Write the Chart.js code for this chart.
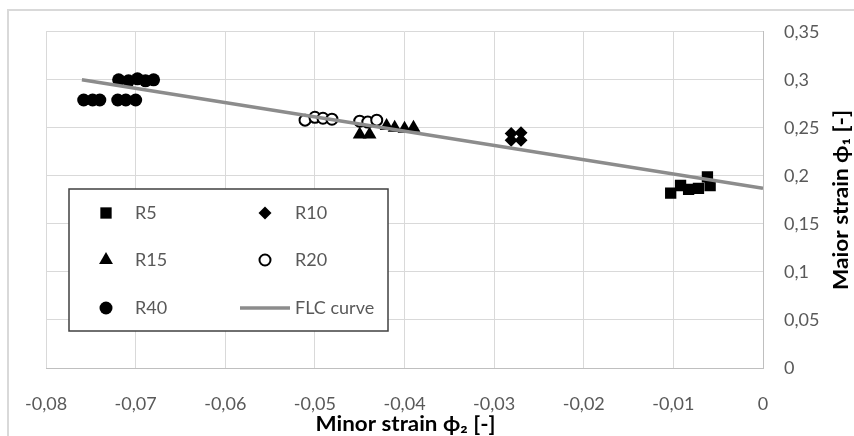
<!DOCTYPE html>
<html><head><meta charset="utf-8">
<script src="https://cdn.jsdelivr.net/npm/chart.js@4.4.1/dist/chart.umd.min.js"></script>
<style>html,body{margin:0;padding:0;background:#fff}#wrap{width:854px;height:436px;position:relative}</style>
</head><body><div id="wrap"><canvas id="c" width="854" height="436"></canvas></div>
<script>
// ---- data ----
const seriesNames = ['R5', 'R10', 'R15', 'R20', 'R40', 'FLC curve'];
const r5X  = [-0.0103, -0.0092, -0.0083, -0.0072, -0.0062, -0.0059];
const r5Y  = [0.182, 0.190, 0.186, 0.187, 0.199, 0.190];
const r10X = [-0.0281, -0.0270, -0.0281, -0.0270];
const r10Y = [0.244, 0.245, 0.237, 0.237];
const r15X = [-0.0450, -0.0439, -0.0420, -0.0411, -0.0400, -0.0390];
const r15Y = [0.243, 0.243, 0.252, 0.250, 0.249, 0.250];
const r20X = [-0.0511, -0.0500, -0.0491, -0.0481, -0.0450, -0.0441, -0.0431];
const r20Y = [0.258, 0.261, 0.260, 0.259, 0.257, 0.256, 0.258];
const r40X = [-0.0719, -0.0708, -0.0698, -0.0689, -0.0680, -0.0758, -0.0748, -0.0740, -0.0720, -0.0711, -0.0700];
const r40Y = [0.300, 0.299, 0.301, 0.299, 0.300, 0.279, 0.279, 0.279, 0.279, 0.279, 0.279];
const flcX = [-0.076, 0];
const flcY = [0.300, 0.187];
const xTicks = [-0.08, -0.07, -0.06, -0.05, -0.04, -0.03, -0.02, -0.01, 0];
const yTicks = [0, 0.05, 0.1, 0.15, 0.2, 0.25, 0.3, 0.35];
const xTitle = 'Minor strain \u03D5\u2082 [-]';
const yTitle = 'Maior strain \u03D5\u2081 [-]';

const pts = (xs, ys) => xs.map((x, i) => ({x: x, y: ys[i]}));
const fmt = v => String(Number(v.toFixed(2))).replace('.', ',');
const FONT = 'Lato, "Open Sans", sans-serif';

const styles = [
  {pointStyle: 'rect', radius: 8, bg: '#000', bc: '#000', bw: 0},
  {pointStyle: 'rectRot', radius: 6.5, bg: '#000', bc: '#000', bw: 0},
  {pointStyle: 'triangle', radius: 8, bg: '#000', bc: '#000', bw: 0},
  {pointStyle: 'circle', radius: 5.5, bg: '#fff', bc: '#000', bw: 2},
  {pointStyle: 'circle', radius: 6.5, bg: '#000', bc: '#000', bw: 0}
];
const pointData = [pts(r5X, r5Y), pts(r10X, r10Y), pts(r15X, r15Y), pts(r20X, r20Y), pts(r40X, r40Y)];

const datasets = pointData.map((d, i) => ({
  label: seriesNames[i], data: d, showLine: false,
  pointStyle: styles[i].pointStyle, pointRadius: styles[i].radius, pointHoverRadius: styles[i].radius,
  pointBackgroundColor: styles[i].bg, pointBorderColor: styles[i].bc, pointBorderWidth: styles[i].bw,
  order: 2
}));
datasets.push({
  label: seriesNames[5], data: pts(flcX, flcY), showLine: true, pointRadius: 0,
  borderColor: '#8c8c8c', borderWidth: 3.5, order: 1
});

const bgPlugin = {
  id: 'bg',
  beforeDraw(chart) {
    const ctx = chart.ctx;
    ctx.save();
    ctx.fillStyle = '#fff';
    ctx.fillRect(0, 0, chart.width, chart.height);
    ctx.strokeStyle = '#d9d9d9';
    ctx.lineWidth = 2;
    ctx.strokeRect(8, 10, 900, 500);
    ctx.restore();
  }
};

const legendPlugin = {
  id: 'customLegend',
  afterDatasetsDraw(chart) {
    const ctx = chart.ctx;
    ctx.save();
    const bx = 69, by = 189, bw = 319, bh = 142;
    ctx.fillStyle = '#fff';
    ctx.fillRect(bx, by, bw, bh);
    ctx.strokeStyle = '#404040';
    ctx.lineWidth = 1.5;
    ctx.strokeRect(bx, by, bw, bh);
    const rowsY = [213, 260, 308];
    const colMarker = [106, 265];
    const colText = [135, 295];
    ctx.font = '18px ' + FONT;
    ctx.textBaseline = 'middle';
    ctx.textAlign = 'left';
    chart.data.datasets.forEach((ds, i) => {
      const col = i % 2, row = Math.floor(i / 2);
      const y = rowsY[row];
      if (i < 5) {
        const s = styles[i];
        ctx.fillStyle = s.bg;
        ctx.strokeStyle = s.bc;
        ctx.lineWidth = s.bw;
        Chart.helpers.drawPoint(ctx, {pointStyle: s.pointStyle, radius: s.radius, borderWidth: s.bw, rotation: 0}, colMarker[col], y);
      } else {
        ctx.strokeStyle = ds.borderColor;
        ctx.lineWidth = ds.borderWidth;
        ctx.beginPath();
        ctx.moveTo(240, y);
        ctx.lineTo(290, y);
        ctx.stroke();
      }
      ctx.fillStyle = '#595959';
      ctx.fillText(ds.label, colText[col], y);
    });
    ctx.restore();
  }
};

function fittedText(ctx, text, length) {
  const w = ctx.measureText(text).width;
  const k = length / w;
  ctx.save();
  ctx.scale(k, 1);
  ctx.fillText(text, 0, 0);
  ctx.restore();
}

const titlePlugin = {
  id: 'axisTitles',
  afterDraw(chart) {
    const ctx = chart.ctx;
    const a = chart.chartArea;
    ctx.save();
    ctx.font = 'bold 20px ' + FONT;
    ctx.fillStyle = '#000';
    ctx.textAlign = 'center';
    ctx.textBaseline = 'middle';
    ctx.save();
    ctx.translate((a.left + a.right) / 2 + 1, 425);
    fittedText(ctx, xTitle, 180);
    ctx.restore();
    ctx.translate(842, (a.top + a.bottom) / 2);
    ctx.rotate(-Math.PI / 2);
    fittedText(ctx, yTitle, 180);
    ctx.restore();
  }
};

new Chart(document.getElementById('c'), {
  type: 'scatter',
  data: {datasets: datasets},
  options: {
    responsive: false,
    devicePixelRatio: 1,
    animation: false,
    layout: {padding: {left: 45, top: 23, right: 0, bottom: 0}},
    plugins: {legend: {display: false}, tooltip: {enabled: false}},
    scales: {
      x: {
        type: 'linear', position: 'bottom', min: -0.08, max: 0,
        afterBuildTicks: s => { s.ticks = xTicks.map(v => ({value: v})); },
        afterFit: s => { s.height = 68; },
        grid: {color: '#d9d9d9', lineWidth: 1, drawTicks: false},
        border: {color: '#bfbfbf', width: 1},
        ticks: {padding: 25, color: '#595959', font: {family: FONT, size: 18}, maxRotation: 0, autoSkip: false, callback: v => fmt(v)}
      },
      y: {
        type: 'linear', position: 'right', min: 0, max: 0.35,
        afterBuildTicks: s => { s.ticks = yTicks.map(v => ({value: v})); },
        afterFit: s => { s.width = 91; },
        grid: {color: '#d9d9d9', lineWidth: 1, drawTicks: false},
        border: {color: '#bfbfbf', width: 1},
        ticks: {padding: 21, color: '#595959', font: {family: FONT, size: 18}, autoSkip: false, callback: v => fmt(v)}
      }
    }
  },
  plugins: [bgPlugin, legendPlugin, titlePlugin]
});
</script>
</body></html>
